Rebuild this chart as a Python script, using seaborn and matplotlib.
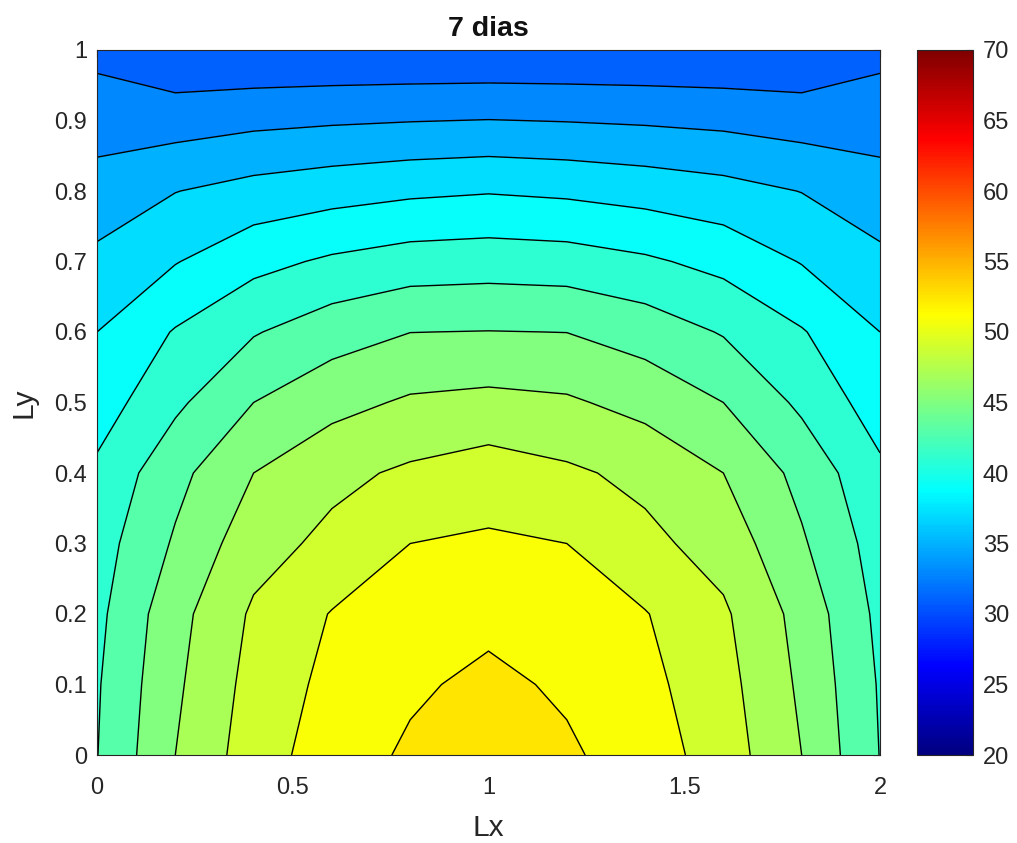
import numpy as np
import pandas as pd
import seaborn as sns
import matplotlib
matplotlib.use("Agg")
import matplotlib.pyplot as plt
from matplotlib.colors import LinearSegmentedColormap, Normalize

# ---- data -------------------------------------------------------------
x_vals = [0.0, 0.2, 0.4, 0.6, 0.8, 1.0, 1.2, 1.4, 1.6, 1.8, 2.0]
y_vals = [0.0, 0.1, 0.2, 0.3, 0.4, 0.5, 0.6, 0.7, 0.8, 0.9, 1.0]

# temperature field, one row per y value (bottom to top), columns follow x_vals
T_y00 = [41.95, 46.00, 49.04, 51.02, 52.30, 53.00, 52.30, 51.02, 49.04, 46.00, 41.95]
T_y01 = [41.81, 45.65, 48.70, 50.56, 51.70, 52.45, 51.70, 50.56, 48.70, 45.65, 41.81]
T_y02 = [41.50, 45.31, 48.30, 50.10, 51.00, 51.50, 51.00, 50.10, 48.30, 45.31, 41.50]
T_y03 = [41.10, 44.25, 47.20, 48.50, 50.00, 50.29, 50.00, 48.50, 47.20, 44.25, 41.10]
T_y04 = [40.40, 43.40, 46.00, 47.49, 48.33, 48.97, 48.33, 47.49, 46.00, 43.40, 40.40]
T_y05 = [39.00, 41.60, 44.00, 45.36, 46.27, 46.55, 46.27, 45.36, 44.00, 41.60, 39.00]
T_y06 = [38.00, 40.15, 41.85, 43.13, 43.98, 44.05, 43.98, 43.13, 41.85, 40.15, 38.00]
T_y07 = [36.47, 37.90, 39.40, 40.31, 40.92, 41.08, 40.92, 40.31, 39.40, 37.90, 36.47]
T_y08 = [34.80, 35.95, 36.70, 37.21, 37.63, 37.87, 37.63, 37.21, 36.70, 35.95, 34.80]
T_y09 = [33.13, 33.10, 33.52, 33.76, 33.93, 34.05, 33.93, 33.76, 33.52, 33.10, 33.13]
T_y10 = [31.44, 30.30, 30.20, 30.20, 30.20, 30.20, 30.20, 30.20, 30.20, 30.30, 31.44]

contour_levels = [32, 34, 36, 38, 40, 42, 44, 46, 48, 50, 52]
clim = [20, 70]
cbar_ticks = [20, 25, 30, 35, 40, 45, 50, 55, 60, 65, 70]
x_ticks = [0, 0.5, 1, 1.5, 2]
x_ticklabels = ["0", "0.5", "1", "1.5", "2"]
y_ticks = [0, 0.1, 0.2, 0.3, 0.4, 0.5, 0.6, 0.7, 0.8, 0.9, 1]
y_ticklabels = ["0", "0.1", "0.2", "0.3", "0.4", "0.5", "0.6", "0.7", "0.8", "0.9", "1"]
title = "7 dias"
xlabel = "Lx"
ylabel = "Ly"

# ---- table ------------------------------------------------------------
rows = [T_y00, T_y01, T_y02, T_y03, T_y04, T_y05, T_y06, T_y07, T_y08, T_y09, T_y10]
df = pd.DataFrame(rows, index=y_vals, columns=x_vals)
Z = df.values
X, Y = np.meshgrid(df.columns.values.astype(float), df.index.values.astype(float))

# ---- style ------------------------------------------------------------
sns.set_theme(style="white")
plt.rcParams["font.family"] = ["Liberation Sans", "DejaVu Sans"]
plt.rcParams["xtick.direction"] = "in"
plt.rcParams["ytick.direction"] = "in"

# MATLAB-like jet colormap
mjet = LinearSegmentedColormap("mjet", {
    "red":   [(0, 0, 0), (0.375, 0, 0), (0.625, 1, 1), (0.875, 1, 1), (1, 0.5, 0.5)],
    "green": [(0, 0, 0), (0.125, 0, 0), (0.375, 1, 1), (0.625, 1, 1), (0.875, 0, 0), (1, 0, 0)],
    "blue":  [(0, 0.5, 0.5), (0.125, 1, 1), (0.375, 1, 1), (0.625, 0, 0), (1, 0, 0)],
}, N=256)
norm = Normalize(vmin=clim[0], vmax=clim[1])

fig = plt.figure(figsize=(10.17, 8.43), dpi=100)
ax = fig.add_axes([97 / 1017, 1 - 755 / 843, 783 / 1017, 705 / 843])
cax = fig.add_axes([917 / 1017, 1 - 755 / 843, 56 / 1017, 705 / 843])

zmin, zmax = float(Z.min()), float(Z.max())
fill_levels = [zmin - 1e-6] + contour_levels + [zmax + 1e-6]
ax.contourf(X, Y, Z, levels=fill_levels, cmap=mjet, norm=norm)
ax.contour(X, Y, Z, levels=contour_levels, colors="black", linewidths=1.0)

ax.set_xlim(0, 2)
ax.set_ylim(0, 1)
ax.set_xticks(x_ticks)
ax.set_xticklabels(x_ticklabels)
ax.set_yticks(y_ticks)
ax.set_yticklabels(y_ticklabels)
ax.tick_params(axis="both", which="both", direction="in", length=5, width=0.8,
               top=True, right=True, labelsize=17, colors="#262626")
ax.tick_params(axis="x", pad=16)
ax.tick_params(axis="y", pad=7)
for s in ax.spines.values():
    s.set_visible(True)
    s.set_color("#262626")
    s.set_linewidth(0.8)
ax.set_title(title, fontsize=20.5, fontweight="bold", pad=10, color="#111111")
ax.set_xlabel(xlabel, fontsize=21.5, color="#262626", labelpad=11)
ax.set_ylabel(ylabel, fontsize=21.5, color="#262626", labelpad=12)

sm = plt.cm.ScalarMappable(norm=norm, cmap=mjet)
cb = fig.colorbar(sm, cax=cax)
cb.set_ticks(cbar_ticks)
cax.tick_params(direction="in", length=5, width=0.8, labelsize=17, colors="#262626", pad=7)
cb.outline.set_edgecolor("#262626")
cb.outline.set_linewidth(0.8)

fig.savefig("out.png", dpi=100, facecolor="white")
